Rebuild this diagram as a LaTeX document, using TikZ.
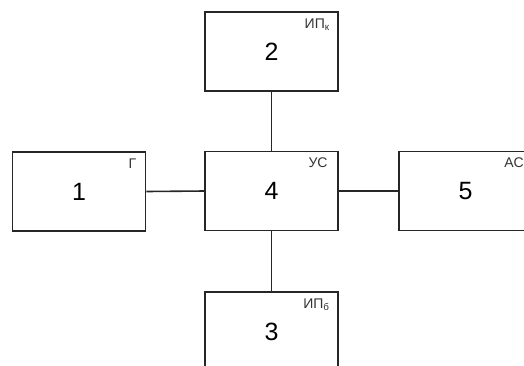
\documentclass[tikz,border=0pt]{standalone}
\usepackage{fontspec}
\setmainfont{Liberation Sans}
\begin{document}
\begin{tikzpicture}[x=1pt,y=-1pt,
  blockbox/.style={draw=black!85,line width=1.6pt,minimum width=133pt,minimum height=79pt,inner sep=0pt,font=\fontsize{25}{28}\selectfont},
  tag/.style={anchor=north east,inner sep=0pt,font=\fontsize{14}{16}\selectfont,text=black!80},
  link/.style={draw=black!85,line width=1.6pt}]
  \useasboundingbox (0,0) rectangle (524,365);
  \clip (0,0) rectangle (524,365);
  % blocks of the structure
  \node[blockbox] (b1) at (79,191.5) {1};
  \node[blockbox] (b2) at (271.5,51.5) {2};
  \node[blockbox] (b4) at (271.5,191) {4};
  \node[blockbox] (b5) at (465.5,191) {5};
  \node[blockbox] (b3) at (271.5,331.5) {3};
  % block designations
  \node[tag] (t1) at ([shift={(-10,7)}]b1.north east) {Г};
  \node[tag] (t2) at ([shift={(-9,7)}]b2.north east) {ИП\textsubscript{к}};
  \node[tag] (t4) at ([shift={(-11,7)}]b4.north east) {УС};
  \node[tag] (t5) at ([shift={(-9,7)}]b5.north east) {АС};
  \node[tag] (t3) at ([shift={(-9,7)}]b3.north east) {ИП\textsubscript{б}};
  % links to the central block
  \draw[link] (b1.east) -- (b4.west);
  \draw[link] (b4.east) -- (b5.west);
  \draw[link] (b2.south) -- (b4.north);
  \draw[link] (b4.south) -- (b3.north);
\end{tikzpicture}
\end{document}
